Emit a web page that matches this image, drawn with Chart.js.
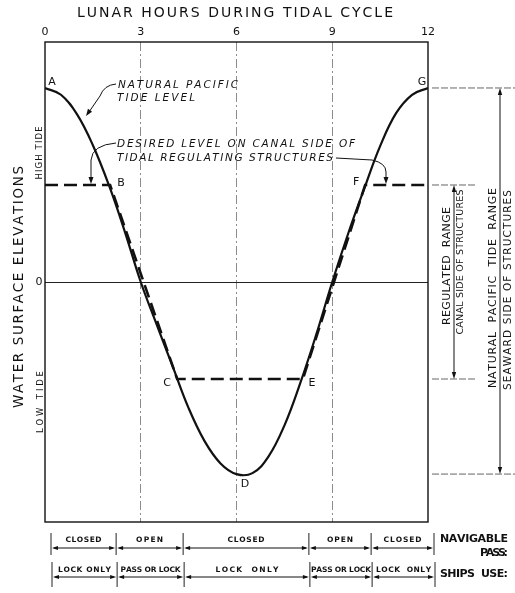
<!DOCTYPE html>
<html><head><meta charset="utf-8">
<script src="https://cdn.jsdelivr.net/npm/chart.js@4"></script>
<style>html,body{margin:0;padding:0;background:#fff}canvas{display:block}</style>
</head><body>
<canvas id="c" width="515" height="593"></canvas>
<script>
// ---------- data ----------
const hours = [0,0.5,1,1.5,2,2.5,3,3.5,4,4.5,5,5.5,6,6.5,7,7.5,8,8.5,9,9.5,10,10.5,11,11.5,12];
const naturalTide = [10,9.65,8.65,7.05,5.0,2.6,0,-2.2,-4.35,-6.5,-8.2,-9.35,-9.9,-9.85,-9.0,-7.4,-5.2,-2.7,0,2.5,4.8,7.0,8.7,9.65,10];
const desiredHours = [0,2.04,4.14,8.08,10.03,12];
const desiredLevel = [5,5,-5,-5,5,5];
const hourTicks = [0,3,6,9,12];
const gridHours = [3,6,9];
const pointLabels = ['A','B','C','D','E','F','G'];
const pointHours = [0,2.04,4.14,6.17,8.08,10.03,12];
const pointLevels = [10,5,-5,-9.9,-5,5,10];
const phaseBounds = [0,2.04,4.14,8.08,10.03,12];
const passStates = ['CLOSED','OPEN','CLOSED','OPEN','CLOSED'];
const shipsUse = ['LOCK ONLY','PASS OR LOCK','LOCK  ONLY','PASS OR LOCK','LOCK  ONLY'];
const levelLabels = ['HIGH TIDE','0','LOW TIDE'];
const regulatedRange = [5,-5];
const naturalRange = [10,-9.9];

const INK = '#111';
const FONT = 'DejaVu Sans';

function spaced(ctx, text, cx, cy, width, font, rot, align) {
  ctx.save();
  ctx.font = font; ctx.fillStyle = INK; ctx.textBaseline = 'middle'; ctx.textAlign = 'left';
  const chars = [...text];
  const ws = chars.map(c => ctx.measureText(c).width);
  const nat = ws.reduce((s, w) => s + w, 0);
  const gap = chars.length > 1 ? (width - nat) / (chars.length - 1) : 0;
  ctx.translate(cx, cy);
  if (rot) ctx.rotate(rot);
  let p = align === 'left' ? 0 : align === 'right' ? -width : -width / 2;
  chars.forEach((c, i) => { ctx.fillText(c, p, 0); p += ws[i] + gap; });
  ctx.restore();
}
function arrowHead(ctx, x, y, fromX, fromY, len, half) {
  const ang = Math.atan2(y - fromY, x - fromX);
  ctx.save();
  ctx.translate(x, y); ctx.rotate(ang);
  ctx.beginPath(); ctx.moveTo(0, 0); ctx.lineTo(-len, -half); ctx.lineTo(-len, half); ctx.closePath();
  ctx.fillStyle = INK; ctx.fill();
  ctx.restore();
}

const decorations = {
  id: 'decorations',
  afterDraw(chart) {
    const ctx = chart.ctx, xs = chart.scales.x, ys = chart.scales.y, a = chart.chartArea;
    const X = v => xs.getPixelForValue(v), Y = v => ys.getPixelForValue(v);
    ctx.save();
    // frame
    ctx.strokeStyle = INK; ctx.lineWidth = 1.4;
    ctx.strokeRect(a.left, a.top, a.right - a.left, a.bottom - a.top);

    // titles
    spaced(ctx, 'LUNAR HOURS DURING TIDAL CYCLE', 235, 13, 316, '14px ' + FONT, 0, 'center');
    spaced(ctx, 'WATER SURFACE ELEVATIONS', 19, 287, 242, '13.5px ' + FONT, -Math.PI / 2, 'center');
    spaced(ctx, levelLabels[0], 40, Y(5) - 32, 53, '8.5px ' + FONT, -Math.PI / 2, 'center');
    ctx.font = '11px ' + FONT; ctx.fillStyle = INK; ctx.textAlign = 'center'; ctx.textBaseline = 'middle';
    ctx.fillText(levelLabels[1], 39, Y(0));
    spaced(ctx, levelLabels[2], 41, Y(-5) + 23, 62, '8.5px ' + FONT, -Math.PI / 2, 'center');

    // point letters
    const offs = [[7,-6],[11,-2],[-10,4],[3,10],[9,4],[-9,-3],[-6,-6]];
    pointLabels.forEach((t, i) => {
      ctx.font = '11px ' + FONT; ctx.fillStyle = INK; ctx.textAlign = 'center'; ctx.textBaseline = 'middle';
      ctx.fillText(t, X(pointHours[i]) + offs[i][0], Y(pointLevels[i]) + offs[i][1]);
    });

    // italic notes
    const it = 'italic 10.5px ' + FONT;
    spaced(ctx, 'NATURAL PACIFIC', 118, 85, 120, it, 0, 'left');
    spaced(ctx, 'TIDE LEVEL', 117, 98, 78, it, 0, 'left');
    spaced(ctx, 'DESIRED LEVEL ON CANAL SIDE OF', 117, 144, 238, it, 0, 'left');
    spaced(ctx, 'TIDAL REGULATING STRUCTURES', 117, 158, 216, it, 0, 'left');

    // leaders
    ctx.strokeStyle = INK; ctx.lineWidth = 1;
    ctx.beginPath(); ctx.moveTo(116, 84); ctx.quadraticCurveTo(104, 85, 100, 96); ctx.lineTo(89, 112); ctx.stroke();
    arrowHead(ctx, 86, 116, 100, 96, 7, 2.5);
    ctx.beginPath(); ctx.moveTo(116, 143); ctx.quadraticCurveTo(92, 145, 91, 160); ctx.lineTo(91, Y(5) - 4); ctx.stroke();
    arrowHead(ctx, 91, Y(5) - 1, 91, 160, 7, 2.5);
    ctx.beginPath(); ctx.moveTo(336, 158); ctx.lineTo(372, 160); ctx.quadraticCurveTo(386, 163, 386, 172); ctx.lineTo(386, Y(5) - 4); ctx.stroke();
    arrowHead(ctx, 386, Y(5) - 1, 386, 172, 7, 2.5);

    // right range annotations
    ctx.strokeStyle = '#666'; ctx.lineWidth = 1; ctx.setLineDash([7, 2]);
    regulatedRange.forEach(v => { ctx.beginPath(); ctx.moveTo(432, Y(v)); ctx.lineTo(477, Y(v)); ctx.stroke(); });
    naturalRange.forEach(v => { ctx.beginPath(); ctx.moveTo(432, Y(v)); ctx.lineTo(515, Y(v)); ctx.stroke(); });
    ctx.setLineDash([]); ctx.strokeStyle = INK;
    ctx.beginPath(); ctx.moveTo(454, Y(5) + 4); ctx.lineTo(454, Y(-5) - 4); ctx.stroke();
    arrowHead(ctx, 454, Y(5), 454, Y(5) + 10, 7, 2.2);
    arrowHead(ctx, 454, Y(-5), 454, Y(-5) - 10, 7, 2.2);
    ctx.beginPath(); ctx.moveTo(500, Y(10) + 4); ctx.lineTo(500, Y(-9.9) - 4); ctx.stroke();
    arrowHead(ctx, 500, Y(10), 500, Y(10) + 10, 7, 2.2);
    arrowHead(ctx, 500, Y(-9.9), 500, Y(-9.9) - 10, 7, 2.2);
    spaced(ctx, 'REGULATED  RANGE', 447, 266, 118, '11px ' + FONT, -Math.PI / 2, 'center');
    spaced(ctx, 'CANAL SIDE OF STRUCTURES', 461, 262, 145, '9.5px ' + FONT, -Math.PI / 2, 'center');
    spaced(ctx, 'NATURAL  PACIFIC  TIDE  RANGE', 493, 288, 200, '11px ' + FONT, -Math.PI / 2, 'center');
    spaced(ctx, 'SEAWARD SIDE OF STRUCTURES', 508, 290, 200, '10.5px ' + FONT, -Math.PI / 2, 'center');

    // phase table
    const rows = [
      {labels: passStates, dx: 6, barTop: 533, barBot: 555, ty: 540, ay: 548,
       widths: [36,27,37,26,38]},
      {labels: shipsUse, dx: 7, barTop: 562, barBot: 587, ty: 570, ay: 577,
       widths: [53,60,63,60,55]}
    ];
    rows.forEach(r => {
      ctx.strokeStyle = '#222'; ctx.lineWidth = 1;
      phaseBounds.forEach(h => { const px = X(h) + r.dx; ctx.beginPath(); ctx.moveTo(px, r.barTop); ctx.lineTo(px, r.barBot); ctx.stroke(); });
      r.labels.forEach((lab, i) => {
        const x0 = X(phaseBounds[i]) + r.dx, x1 = X(phaseBounds[i + 1]) + r.dx;
        ctx.strokeStyle = INK; ctx.lineWidth = 1;
        ctx.beginPath(); ctx.moveTo(x0 + 3, r.ay); ctx.lineTo(x1 - 3, r.ay); ctx.stroke();
        arrowHead(ctx, x0 + 1, r.ay, x0 + 10, r.ay, 6, 2);
        arrowHead(ctx, x1 - 1, r.ay, x1 - 10, r.ay, 6, 2);
        spaced(ctx, lab, (x0 + x1) / 2, r.ty, r.widths[i], 'bold 7.5px ' + FONT, 0, 'center');
      });
    });
    spaced(ctx, 'NAVIGABLE', 474, 539, 68, 'bold 11px ' + FONT, 0, 'center');
    spaced(ctx, 'PASS:', 508, 553, 28, 'bold 11px ' + FONT, 0, 'right');
    spaced(ctx, 'SHIPS  USE:', 474, 574, 68, 'bold 11px ' + FONT, 0, 'center');
    ctx.restore();
  }
};

new Chart(document.getElementById('c'), {
  type: 'line',
  data: {
    datasets: [
      {label: 'Natural Pacific tide level', data: hours.map((h, i) => ({x: h, y: naturalTide[i]})),
       borderColor: INK, borderWidth: 2.2, pointRadius: 0, tension: 0.4, fill: false},
      {label: 'Desired level on canal side', data: desiredHours.map((h, i) => ({x: h, y: desiredLevel[i]})),
       borderColor: INK, borderWidth: 2.6, borderDash: [13, 6], pointRadius: 0, tension: 0, fill: false}
    ]
  },
  options: {
    responsive: false, animation: false, devicePixelRatio: 1,
    layout: {padding: {left: 0, right: 87, top: 0, bottom: 71}},
    plugins: {legend: {display: false}, tooltip: {enabled: false}},
    scales: {
      x: {
        type: 'linear', position: 'top', min: 0, max: 12,
        afterBuildTicks: s => { s.ticks = hourTicks.map(v => ({value: v})); },
        afterFit: s => { s.height = 42; },
        ticks: {color: INK, font: {family: FONT, size: 11}, padding: 3, maxRotation: 0, autoSkip: false},
        grid: {drawTicks: false, lineWidth: 1,
               color: c => (c.tick && gridHours.includes(c.tick.value)) ? '#8c8c8c' : 'rgba(0,0,0,0)'},
        border: {display: false, dash: [9, 3, 2, 3]}
      },
      y: {
        min: -12.37, max: 12.37,
        afterBuildTicks: s => { s.ticks = [{value: 0}]; },
        afterFit: s => { s.width = 45; },
        ticks: {display: false},
        grid: {drawTicks: false, color: '#222', lineWidth: 1},
        border: {display: false}
      }
    }
  },
  plugins: [decorations]
});
</script>
</body></html>
